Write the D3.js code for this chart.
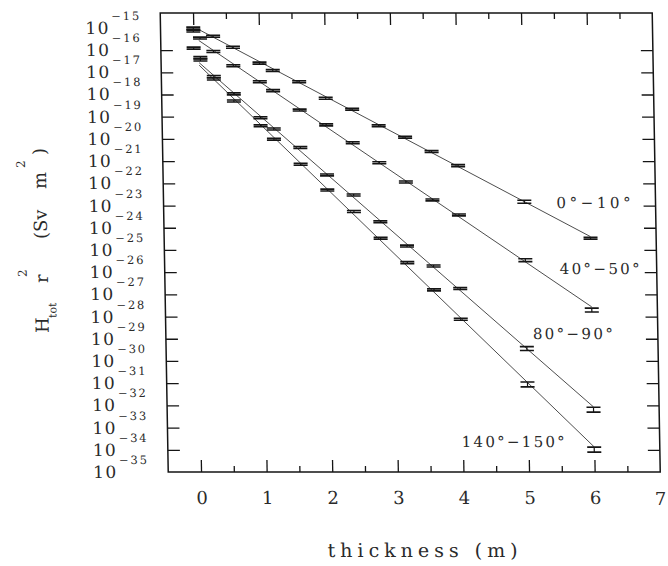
<!DOCTYPE html>
<html>
<head>
<meta charset="utf-8">
<script src="https://d3js.org/d3.v7.min.js"></script>
<style>
body { margin: 0; background: #fff; }
svg { display: block; font-family: "DejaVu Serif", "Liberation Serif", serif; }
</style>
</head>
<body>
<div id="chart"></div>
<script>
var width = 668, height = 566;

// angular bins
var labels = ["0°−10°", "40°−50°", "80°−90°", "140°−150°"];

// shield thickness (m) per bin
var thick0 = [0, 0.3, 0.6, 1.0, 1.2, 1.6, 2.0, 2.4, 2.8, 3.2, 3.6, 4.0, 5.0, 6.0];
var thick40 = [0, 0.1, 0.3, 0.6, 1.0, 1.2, 1.6, 2.0, 2.4, 2.8, 3.2, 3.6, 4.0, 5.0, 6.0];
var thick80 = [0, 0.1, 0.3, 0.6, 1.0, 1.2, 1.6, 2.0, 2.4, 2.8, 3.2, 3.6, 4.0, 5.0, 6.0];
var thick140 = [0.1, 0.3, 0.6, 1.0, 1.2, 1.6, 2.0, 2.4, 2.8, 3.2, 3.6, 4.0, 5.0, 6.0];

// H_tot r^2 (Sv m^2)
var dose0 = [9.8e-16, 4.2e-16, 1.35e-16, 2.6e-17, 1.2e-17, 3.8e-18, 6.8e-19, 2.2e-19, 3.9e-20, 1.2e-20, 2.7e-21, 6.3e-22, 1.5e-23, 3.4e-25];
var dose40 = [7.2e-16, 3.5e-16, 8.7e-17, 2.0e-17, 3.8e-18, 1.5e-18, 2.0e-19, 4.3e-20, 6.8e-21, 8.5e-22, 1.15e-22, 1.8e-23, 3.8e-24, 3.5e-26, 2.0e-28];
var dose80 = [1.23e-16, 4.6e-17, 6.5e-18, 1.07e-18, 9.1e-20, 2.8e-20, 4.1e-21, 2.4e-22, 3.0e-23, 1.86e-24, 1.5e-25, 1.9e-26, 1.86e-27, 3.7e-30, 6.6e-33];
var dose140 = [3.6e-17, 5.0e-18, 5.1e-19, 3.9e-20, 9.8e-21, 7.2e-22, 5.0e-23, 5.4e-24, 3.4e-25, 2.7e-26, 1.6e-27, 7.6e-29, 9.1e-32, 1.05e-34];

// relative errors
var err0 = [0.1, 0.1, 0.1, 0.1, 0.1, 0.1, 0.1, 0.1, 0.1, 0.1, 0.1, 0.1, 0.15, 0.1];
var err40 = [0.1, 0.1, 0.1, 0.1, 0.1, 0.1, 0.1, 0.1, 0.1, 0.1, 0.1, 0.1, 0.1, 0.15, 0.2];
var err80 = [0.1, 0.1, 0.1, 0.1, 0.1, 0.1, 0.1, 0.1, 0.1, 0.1, 0.1, 0.1, 0.1, 0.2, 0.25];
var err140 = [0.1, 0.1, 0.1, 0.1, 0.1, 0.1, 0.1, 0.1, 0.1, 0.1, 0.1, 0.1, 0.25, 0.25];

var xTicks = [0, 1, 2, 3, 4, 5, 6, 7];
var exponents = d3.range(-15, -36, -1);

var series = [
    {name: labels[0], x: thick0, y: dose0, e: err0},
    {name: labels[1], x: thick40, y: dose40, e: err40},
    {name: labels[2], x: thick80, y: dose80, e: err80},
    {name: labels[3], x: thick140, y: dose140, e: err140}
];

var ink = "#151515";
var textInk = "#2a2a2a";

var svg = d3.select("#chart").append("svg")
    .attr("width", width)
    .attr("height", height);

// the scanned original is slightly sheared, so the whole drawing leans 1 degree
var plot = svg.append("g").attr("transform", "skewX(1)");

var x = d3.scaleLinear().domain([-0.5, 7]).range([160, 652]);
var y = d3.scaleLog().domain([1e-35, Math.pow(10, -14.33)]).range([472, 13]);

var decades = exponents.map(function(e) { return Math.pow(10, e); });
var halfTicks = d3.range(0.5, 7, 1);

function clean(sel) {
    sel.select(".domain").remove();
    sel.selectAll("line").attr("stroke", ink).attr("stroke-width", 1.3);
}

// bottom axis with labels
plot.append("g")
    .attr("transform", "translate(0,472)")
    .call(d3.axisBottom(x).tickValues(xTicks.slice(0, 7)).tickSize(-12).tickPadding(19).tickFormat(d3.format("d")))
    .call(clean)
    .call(function(a) {
        a.selectAll("text").attr("fill", textInk).style("font-size", "18px")
            .style("font-family", "DejaVu Serif");
    });
plot.append("text")
    .attr("x", x(7)).attr("y", 505)
    .attr("text-anchor", "middle")
    .attr("fill", textInk)
    .style("font-size", "18px")
    .text("7");
plot.append("g")
    .attr("transform", "translate(0,472)")
    .call(d3.axisBottom(x).tickValues(halfTicks).tickSize(-6).tickFormat(""))
    .call(clean);

// top axis
plot.append("g")
    .attr("transform", "translate(0,13)")
    .call(d3.axisTop(x).tickValues(xTicks.slice(0, 7)).tickSize(-12).tickFormat(""))
    .call(clean);
plot.append("g")
    .attr("transform", "translate(0,13)")
    .call(d3.axisTop(x).tickValues(halfTicks).tickSize(-6).tickFormat(""))
    .call(clean);

// left and right axes
plot.append("g")
    .attr("transform", "translate(160,0)")
    .call(d3.axisLeft(y).tickValues(decades.slice(1, 20)).tickSize(-12).tickFormat(""))
    .call(clean);
plot.append("g")
    .attr("transform", "translate(652,0)")
    .call(d3.axisRight(y).tickValues(decades.slice(1, 20)).tickSize(-12).tickFormat(""))
    .call(clean);

// frame
plot.append("rect")
    .attr("x", 160).attr("y", 13)
    .attr("width", 492).attr("height", 459)
    .attr("fill", "none")
    .attr("stroke", ink)
    .attr("stroke-width", 1.5);

// y tick labels: 10 with raised exponent
var yLab = plot.append("g").attr("fill", textInk);
yLab.selectAll(".base")
    .data(exponents)
    .enter()
    .append("text")
    .attr("class", "base")
    .attr("x", 85)
    .attr("y", function(e) { return y(Math.pow(10, e)) + 6; })
    .attr("textLength", 23)
    .attr("lengthAdjust", "spacing")
    .style("font-size", "17px")
    .text("10");
yLab.selectAll(".exp")
    .data(exponents)
    .enter()
    .append("text")
    .attr("class", "exp")
    .attr("x", 111)
    .attr("y", function(e) { return y(Math.pow(10, e)) - 8; })
    .attr("textLength", 28)
    .attr("lengthAdjust", "spacing")
    .style("font-size", "11.5px")
    .text(function(e) { return "−" + Math.abs(e); });

// exponential fits, done in log space from the points beyond the first one
function fit(s) {
    var pts = s.x.map(function(v, i) { return [v, Math.log10(s.y[i])]; })
        .filter(function(p) { return p[0] >= 0.3; });
    var mx = d3.mean(pts, function(p) { return p[0]; });
    var my = d3.mean(pts, function(p) { return p[1]; });
    var b = d3.sum(pts, function(p) { return (p[0] - mx) * (p[1] - my); }) /
            d3.sum(pts, function(p) { return (p[0] - mx) * (p[0] - mx); });
    var a = my - b * mx;
    return [0.08, 6].map(function(t) { return [t, Math.pow(10, a + b * t)]; });
}

var line = d3.line()
    .x(function(d) { return x(d[0]); })
    .y(function(d) { return y(d[1]); });

plot.selectAll(".fit")
    .data(series)
    .enter()
    .append("path")
    .attr("class", "fit")
    .attr("d", function(s) { return line(fit(s)); })
    .attr("fill", "none")
    .attr("stroke", "#3a3a3a")
    .attr("stroke-width", 0.9);

// error bars with wide caps
series.forEach(function(s) {
    var pts = s.x.map(function(v, i) { return {x: v, y: s.y[i], e: s.e[i]}; });
    var grp = plot.append("g").attr("stroke", ink);
    var bars = grp.selectAll("g").data(pts).enter().append("g");
    bars.append("line")
        .attr("x1", function(d) { return x(d.x); })
        .attr("x2", function(d) { return x(d.x); })
        .attr("y1", function(d) { return y(d.y * (1 + d.e)); })
        .attr("y2", function(d) { return y(d.y * (1 - d.e)); })
        .attr("stroke-width", 1.2);
    [1, -1].forEach(function(sign) {
        bars.append("line")
            .attr("x1", function(d) { return x(d.x) - 7; })
            .attr("x2", function(d) { return x(d.x) + 7; })
            .attr("y1", function(d) { return y(d.y * (1 + sign * d.e)); })
            .attr("y2", function(d) { return y(d.y * (1 + sign * d.e)); })
            .attr("stroke-width", 1.6);
    });
});

// series labels
var labelPlace = [
    {x: 553, y: 208, w: 74},
    {x: 555, y: 274, w: 80},
    {x: 527, y: 339, w: 80},
    {x: 454, y: 447, w: 103}
];
plot.selectAll(".lab")
    .data(series)
    .enter()
    .append("text")
    .attr("class", "lab")
    .attr("x", function(d, i) { return labelPlace[i].x; })
    .attr("y", function(d, i) { return labelPlace[i].y; })
    .attr("textLength", function(d, i) { return labelPlace[i].w; })
    .attr("lengthAdjust", "spacing")
    .attr("fill", textInk)
    .style("font-size", "15px")
    .text(function(d) { return d.name; });

// axis titles
plot.append("text")
    .attr("x", 318).attr("y", 557)
    .attr("textLength", 190)
    .attr("lengthAdjust", "spacing")
    .attr("fill", textInk)
    .style("font-size", "19px")
    .text("thickness (m)");

var yt = plot.append("text")
    .attr("transform", "translate(43,333) rotate(-90)")
    .attr("fill", textInk)
    .style("font-size", "18px");
yt.append("tspan").attr("x", 0).attr("y", 0).text("H");
yt.append("tspan").attr("x", 15).attr("y", 8).style("font-size", "11px").text("tot");
yt.append("tspan").attr("x", 50).attr("y", 0).text("r");
yt.append("tspan").attr("x", 56).attr("y", -21).style("font-size", "12px").text("2");
yt.append("tspan").attr("x", 94).attr("y", 0).text("(Sv");
yt.append("tspan").attr("x", 144).attr("y", 0).text("m");
yt.append("tspan").attr("x", 165).attr("y", -21).style("font-size", "12px").text("2");
yt.append("tspan").attr("x", 178).attr("y", 0).text(")");
</script>
</body>
</html>
